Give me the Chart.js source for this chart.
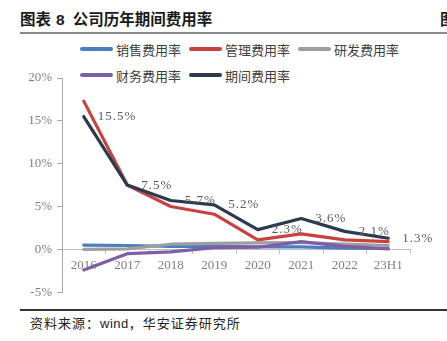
<!DOCTYPE html>
<html lang="zh">
<head>
<meta charset="UTF-8">
<title>公司历年期间费用率</title>
<script src="https://cdn.jsdelivr.net/npm/chart.js"></script>
<style>
  html, body { margin: 0; padding: 0; background: #fff; }
  body { width: 447px; height: 341px; position: relative; overflow: hidden; font-family: "Noto Sans CJK SC", sans-serif; }
  .title { position: absolute; left: 20px; top: 7px; font-size: 15.5px; font-weight: bold; color: #1a1a1a; white-space: nowrap; line-height: 22px; }
  .title .num { margin: 0 8px 0 5px; font-family: "Liberation Sans", sans-serif; }
  .cut { position: absolute; left: 440px; top: 7px; font-size: 15.5px; font-weight: bold; color: #1a1a1a; line-height: 22px; }
  .rule-top { position: absolute; left: 20px; right: 0; top: 32px; height: 2px; background: #8a8a8a; }
  .rule-bottom { position: absolute; left: 20px; right: 0; top: 309px; height: 1.5px; background: #333; }
  .source { position: absolute; left: 30px; top: 314px; font-size: 13px; color: #222; letter-spacing: 1px; line-height: 18px; white-space: nowrap; }
  .source .en { font-family: "Liberation Sans", sans-serif; letter-spacing: 0.5px; }
  .legend-item { position: absolute; height: 18px; display: flex; align-items: center; font-size: 13px; color: #404040; white-space: nowrap; }
  .legend-item .swatch { width: 33px; height: 4px; border-radius: 2px; margin-right: 3px; }
  #chart { position: absolute; left: 0; top: 60px; }
</style>
</head>
<body>
<div class="title">图表<span class="num">8</span>公司历年期间费用率</div>
<div class="cut">图</div>
<div class="rule-top"></div>
<div id="legend"></div>
<canvas id="chart" width="447" height="245"></canvas>
<div class="rule-bottom"></div>
<div class="source">资料来源：<span class="en">wind</span>，华安证券研究所</div>

<script>
// categories and series (values in %)
const years = ['2016', '2017', '2018', '2019', '2020', '2021', '2022', '23H1'];
const seriesNames = ['销售费用率', '管理费用率', '研发费用率', '财务费用率', '期间费用率'];
const seriesColors = ['#4a7ebf', '#c8423f', '#9e9e9e', '#7e5fa6', '#2c3a50'];
const salesRate = [0.5, 0.45, 0.35, 0.35, 0.3, 0.3, 0.15, 0.1];
const adminRate = [17.3, 7.5, 5.0, 4.1, 1.1, 1.8, 1.1, 0.9];
const rdRate = [0.0, 0.05, 0.6, 0.7, 0.75, 0.8, 0.6, 0.45];
const financeRate = [-2.4, -0.5, -0.3, 0.2, 0.25, 0.9, 0.35, 0.05];
const periodRate = [15.5, 7.5, 5.7, 5.2, 2.3, 3.6, 2.1, 1.3];
const yTicks = [-5, 0, 5, 10, 15, 20];

const seriesData = [salesRate, adminRate, rdRate, financeRate, periodRate];

// html legend, 3 + 2 rows like the original
const legendPos = [[80, 40], [189, 40], [298, 40], [80, 66], [189, 66]];
const legendEl = document.getElementById('legend');
seriesNames.forEach((name, i) => {
    const item = document.createElement('div');
    item.className = 'legend-item';
    item.style.left = legendPos[i][0] + 'px';
    item.style.top = legendPos[i][1] + 'px';
    item.innerHTML = '<span class="swatch" style="background:' + seriesColors[i] + '"></span>' + name;
    legendEl.appendChild(item);
});

// value labels to the right of the period-rate points
const pointLabels = {
    id: 'pointLabels',
    afterDatasetsDraw(chart) {
        const meta = chart.getDatasetMeta(4);
        const ctx = chart.ctx;
        ctx.save();
        ctx.font = '13px "Liberation Serif", serif';
        ctx.letterSpacing = '1px';
        ctx.fillStyle = '#5a5a5a';
        ctx.textAlign = 'left';
        ctx.textBaseline = 'middle';
        meta.data.forEach((pt, i) => {
            ctx.fillText(periodRate[i].toFixed(1) + '%', pt.x + 14, pt.y);
        });
        ctx.restore();
    }
};

const datasets = seriesData.map((d, i) => ({
    label: seriesNames[i],
    data: d,
    borderColor: seriesColors[i],
    backgroundColor: seriesColors[i],
    borderWidth: 3.2,
    pointRadius: 0,
    tension: 0,
    fill: false,
    borderCapStyle: 'round',
    borderJoinStyle: 'round',
    order: 5 - i
}));

new Chart(document.getElementById('chart'), {
    type: 'line',
    data: { labels: years, datasets: datasets },
    plugins: [pointLabels],
    options: {
        responsive: false,
        animation: false,
        layout: { padding: { left: 20, right: 37, top: 18, bottom: 12 } },
        plugins: { legend: { display: false }, tooltip: { enabled: false } },
        scales: {
            x: {
                position: { y: 0 },
                offset: true,
                grid: { display: true, drawOnChartArea: false, offset: true, tickLength: 4, color: '#bfbfbf' },
                border: { display: true, color: '#bfbfbf', width: 1 },
                ticks: { color: '#7f7f7f', font: { family: '"Liberation Serif", serif', size: 13 }, padding: 4, maxRotation: 0 }
            },
            y: {
                min: -5,
                max: 20,
                afterBuildTicks(scale) { scale.ticks = yTicks.map(v => ({ value: v })); },
                afterFit(scale) { scale.width = 42; },
                grid: { display: true, drawOnChartArea: false, tickLength: 5, color: '#a6a6a6' },
                border: { display: true, color: '#a6a6a6', width: 1 },
                ticks: {
                    color: '#7f7f7f',
                    padding: 5,
                    font: { family: '"Liberation Serif", serif', size: 13 },
                    callback: v => v + '%'
                }
            }
        }
    }
});
</script>
</body>
</html>
